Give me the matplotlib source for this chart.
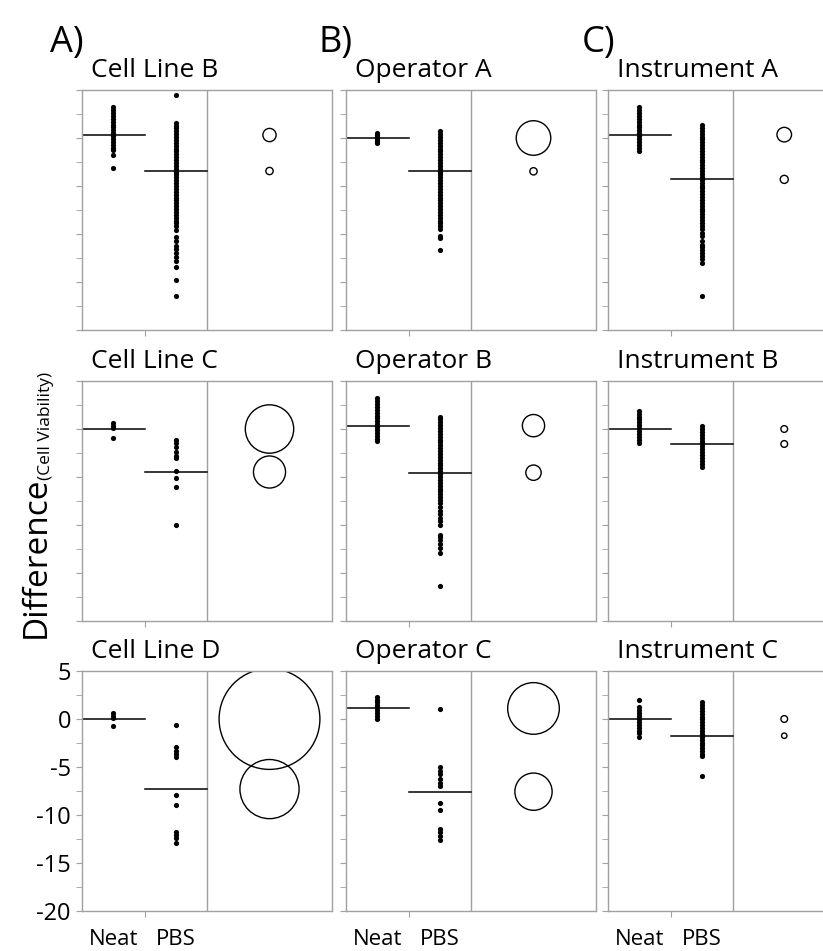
import matplotlib
matplotlib.use("Agg")
import matplotlib.pyplot as plt
from matplotlib.patches import Ellipse

plt.rcParams['font.family'] = ['Open Sans', 'DejaVu Sans']
plt.rcParams['axes.unicode_minus'] = False

# panel titles, row by row
titles = [["Cell Line B", "Operator A", "Instrument A"],
          ["Cell Line C", "Operator B", "Instrument B"],
          ["Cell Line D", "Operator C", "Instrument C"]]
col_letters = ["A)", "B)", "C)"]
groups = ["Neat", "PBS"]
yticks = [5, 0, -5, -10, -15, -20]

# Neat / PBS values per panel
cellB_neat = [3.2, 2.9, 2.6, 2.3, 2.0, 1.7, 1.4, 1.1, 0.8, 0.5, 0.2, -0.1, -0.4, -0.7, -1.0, -1.3, -1.8, -3.1]
cellB_pbs = [4.5, 1.6, 1.3, 1.0, 0.7, 0.4, 0.1, -0.2, -0.5, -0.8, -1.1, -1.4, -1.7, -2.0, -2.3, -2.6,
             -2.9, -3.2, -3.5, -3.8, -4.1, -4.4, -4.7, -5.0, -5.3, -5.6, -5.9, -6.2, -6.5, -6.8, -7.1,
             -7.4, -7.7, -8.0, -8.3, -8.6, -8.9, -9.2, -9.6, -10.3, -10.7, -11.2, -11.6, -12.0, -12.4,
             -12.8, -13.4, -14.8, -16.5]
opA_neat = [0.5, 0.3, 0.1, -0.1, -0.3, -0.5]
opA_pbs = [0.7, 0.4, 0.1, -0.2, -0.5, -0.8, -1.1, -1.4, -1.7, -2.0, -2.3, -2.6, -2.9, -3.2, -3.5, -3.8,
           -4.1, -4.4, -4.7, -5.0, -5.3, -5.6, -5.9, -6.2, -6.5, -6.8, -7.1, -7.4, -7.7, -8.0, -8.3,
           -8.6, -8.9, -9.2, -9.5, -10.2, -10.4, -11.7]
instA_neat = [3.2, 2.9, 2.6, 2.3, 2.0, 1.7, 1.4, 1.1, 0.8, 0.5, 0.2, -0.1, -0.4, -0.7, -1.0, -1.35]
instA_pbs = [1.35, 1.05, 0.75, 0.45, 0.15, -0.15, -0.45, -0.75, -1.05, -1.35, -1.65, -1.95, -2.25,
             -2.55, -2.85, -3.15, -3.45, -3.75, -4.05, -4.35, -4.65, -4.95, -5.25, -5.55, -5.85,
             -6.15, -6.45, -6.75, -7.05, -7.35, -7.65, -7.95, -8.25, -8.55, -8.85, -9.15, -9.45,
             -9.85, -10.2, -10.7, -11.1, -11.4, -11.7, -12.0, -12.3, -12.6, -13.0, -16.5]
cellC_neat = [0.6, 0.35, 0.15, -0.9]
cellC_pbs = [-1.1, -1.5, -1.9, -2.4, -2.8, -3.05, -4.35, -5.15, -6.0, -10.0]
opB_neat = [3.2, 2.9, 2.6, 2.3, 2.0, 1.7, 1.4, 1.1, 0.8, 0.5, 0.2, -0.1, -0.4, -0.7, -1.0, -1.3]
opB_pbs = [1.3, 1.0, 0.7, 0.4, 0.1, -0.2, -0.5, -0.8, -1.1, -1.4, -1.7, -2.0, -2.3, -2.6, -2.9,
           -3.2, -3.5, -3.8, -4.1, -4.4, -4.7, -5.0, -5.3, -5.6, -5.9, -6.2, -6.5, -6.8, -7.1,
           -7.4, -7.7, -8.1, -8.5, -8.9, -9.3, -9.6, -10.0, -11.0, -11.3, -11.6, -12.0, -12.4,
           -12.9, -16.4]
instB_neat = [1.9, 1.6, 1.3, 1.0, 0.7, 0.4, 0.1, -0.2, -0.5, -0.8, -1.1, -1.5]
instB_pbs = [0.3, 0.0, -0.3, -0.6, -0.9, -1.2, -1.5, -1.8, -2.1, -2.4, -2.7, -3.0, -3.3, -3.6, -4.0]
cellD_neat = [0.6, 0.35, 0.1, -0.75]
cellD_pbs = [-0.65, -2.9, -3.3, -3.65, -3.95, -7.9, -8.95, -11.8, -12.1, -12.4, -12.9]
opC_neat = [2.25, 2.0, 1.75, 1.45, 1.2, 0.95, 0.65, 0.35, 0.05]
opC_pbs = [1.05, -5.05, -5.4, -5.7, -6.3, -6.65, -7.0, -8.7, -9.45, -11.45, -11.8, -12.2, -12.65]
instC_neat = [2.0, 1.2, 0.9, 0.6, 0.3, 0.0, -0.3, -0.6, -0.9, -1.2, -1.5, -1.85]
instC_pbs = [1.75, 1.45, 1.15, 0.85, 0.55, 0.25, -0.05, -0.35, -0.65, -0.95, -1.25, -1.55, -1.85,
             -2.15, -2.45, -2.75, -3.05, -3.35, -3.65, -3.9, -5.9]

neat = [[cellB_neat, opA_neat, instA_neat],
        [cellC_neat, opB_neat, instB_neat],
        [cellD_neat, opC_neat, instC_neat]]
pbs = [[cellB_pbs, opA_pbs, instA_pbs],
       [cellC_pbs, opB_pbs, instB_pbs],
       [cellD_pbs, opC_pbs, instC_pbs]]

# group means (Neat, PBS)
means = [[(0.31, -3.44), (0.0, -3.47), (0.35, -4.31)],
         [(0.0, -4.48), (0.35, -4.55), (0.0, -1.56)],
         [(0.0, -7.3), (1.1, -7.57), (0.0, -1.74)]]
# comparison circle radii (Neat, PBS)
radii = [[(0.69, 0.38), (1.8, 0.38), (0.76, 0.42)],
         [(2.52, 1.67), (1.16, 0.8), (0.35, 0.35)],
         [(5.25, 3.08), (2.69, 1.94), (0.35, 0.28)]]

W, H = 823, 951
fig = plt.figure(figsize=(W / 100, H / 100), dpi=100)

col_left = [82, 346, 608]
row_top = [90, 381, 671]
ax_w, ax_h = 250, 240
circle_x = [3.5, 3.5, 3.32]
grey = "#a0a0a0"

for r in range(3):
    for c in range(3):
        ax = fig.add_axes([col_left[c] / W, 1 - (row_top[r] + ax_h) / H, ax_w / W, ax_h / H])
        ax.set_xlim(0.5, 4.5)
        ax.set_ylim(-20, 5)
        for s in ax.spines.values():
            s.set_color(grey)
            s.set_linewidth(1)
        if c == 2:
            ax.spines["right"].set_visible(False)
        ax.axvline(2.5, color=grey, lw=1)

        ax.scatter([1] * len(neat[r][c]), neat[r][c], s=14, color="black", lw=0, zorder=3)
        ax.scatter([2] * len(pbs[r][c]), pbs[r][c], s=14, color="black", lw=0, zorder=3)
        m_neat, m_pbs = means[r][c]
        ax.plot([0.5, 1.5], [m_neat, m_neat], color="black", lw=1.1)
        ax.plot([1.5, 2.5], [m_pbs, m_pbs], color="black", lw=1.1)

        # circles: keep them round in pixel space
        sx = (ax_h / 25) / (ax_w / 4)
        for m, rad in zip(means[r][c], radii[r][c]):
            ax.add_patch(Ellipse((circle_x[c], m), 2 * rad * sx, 2 * rad,
                                 fill=False, edgecolor="black", lw=1))

        ax.set_yticks(yticks)
        ax.set_yticks([2.5, -2.5, -7.5, -12.5, -17.5], minor=True)
        ax.tick_params(axis="y", which="both", length=4, color=grey, labelsize=17, pad=4)
        if not (r == 2 and c == 0):
            ax.tick_params(axis="y", labelleft=False)
        ax.set_xticks([1.5])
        ax.set_xticklabels([])
        ax.tick_params(axis="x", which="major", length=4, color=grey)
        if r == 2:
            ax.set_xticks([1, 2], minor=True, labels=groups)
            ax.tick_params(axis="x", which="minor", length=0, labelsize=16, pad=13)

        fig.text((col_left[c] + 9) / W, 1 - (row_top[r] - 13) / H, titles[r][c],
                 fontsize=19, ha="left", va="baseline")

for c in range(3):
    fig.text([50, 318, 582][c] / W, 1 - 52 / H, col_letters[c], fontsize=26, ha="left", va="baseline")

# y label with subscript
lab = fig.text(45 / W, 1 - 638 / H, "Difference", rotation=90, rotation_mode="anchor",
               fontsize=24, ha="left", va="baseline")
fig.canvas.draw()
bb = lab.get_window_extent()
fig.text(50 / W, (bb.y1 - 3) / H, "(Cell Viability)", rotation=90, rotation_mode="anchor",
         fontsize=12.5, ha="left", va="baseline")

fig.savefig("out.png", dpi=100)
